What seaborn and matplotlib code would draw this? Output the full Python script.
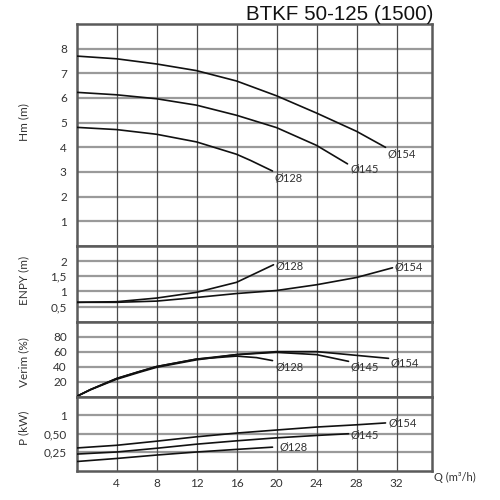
import matplotlib
matplotlib.use("Agg")
import matplotlib.pyplot as plt
import seaborn as sns
import pandas as pd

sns.set_theme(style="white")
plt.rcParams['font.family'] = ['Lato', 'DejaVu Sans']

# ---------------- data ----------------
title = "BTKF 50-125 (1500)"
x_ticks = [4, 8, 12, 16, 20, 24, 28, 32]

# Head Hm (m)
q_h128 = [0, 4, 8, 12, 16, 17.4, 19.6]
h_128 = [4.81, 4.72, 4.53, 4.22, 3.72, 3.47, 3.04]
q_h145 = [0, 4, 8, 12, 16, 20, 24, 27.1]
h_145 = [6.23, 6.13, 5.97, 5.71, 5.30, 4.80, 4.08, 3.33]
q_h154 = [0, 4, 8, 12, 16, 20, 24, 28, 30.9]
h_154 = [7.70, 7.59, 7.38, 7.11, 6.69, 6.09, 5.39, 4.65, 4.00]

# ENPY (m)
q_n128 = [0, 4, 8, 12, 16, 19.7]
n_128 = [0.64, 0.66, 0.78, 0.97, 1.30, 1.88]
q_n154 = [0, 4, 8, 12, 16, 20, 24, 28, 31.6]
n_154 = [0.64, 0.64, 0.68, 0.80, 0.93, 1.03, 1.22, 1.46, 1.78]

# Verim (%)
q_e128 = [0, 1.4, 4, 6.2, 8, 12, 16, 18, 19.6]
e_128 = [0, 9.3, 24, 33, 40, 50, 54, 52, 48]
q_e145 = [0, 1.4, 4, 6.2, 8, 12, 16, 20, 24, 27.2]
e_145 = [0, 9.3, 24, 33, 40, 50, 56, 59, 56, 47]
q_e154 = [0, 1.4, 4, 6.2, 8, 12, 16, 20, 24, 28, 31.2]
e_154 = [0, 9, 23, 32, 39, 49, 56, 60, 60, 55, 51]

# P (kW) - plotted on the chart's band scale (bands labelled 0,25 / 0,50 / 1)
q_p128 = [0, 4, 8, 12, 16, 19.6]
p_128 = [0.127, 0.168, 0.214, 0.255, 0.290, 0.320]
q_p145 = [0, 4, 8, 12, 16, 20, 24, 27.2]
p_145 = [0.227, 0.255, 0.305, 0.360, 0.405, 0.445, 0.477, 0.500]
q_p154 = [0, 4, 8, 12, 16, 20, 24, 28, 30.9]
p_154 = [0.309, 0.345, 0.400, 0.459, 0.509, 0.550, 0.590, 0.620, 0.645]

h_ticks = [1, 2, 3, 4, 5, 6, 7, 8]
h_ticklabels = ["1", "2", "3", "4", "5", "6", "7", "8"]
n_ticks = [0.5, 1, 1.5, 2]
n_ticklabels = ["0,5", "1", "1,5", "2"]
e_ticks = [20, 40, 60, 80]
e_ticklabels = ["20", "40", "60", "80"]
p_ticks = [0.25, 0.5, 0.75]
p_ticklabels = ["0,25", "0,50", "1"]

# ---------------- figure ----------------
fig = plt.figure(figsize=(5, 5), dpi=100)
W = 500.0
left, right = 76.5, 432.0
panels_px = [(24, 246), (246, 321.7), (321.7, 396.5), (396.5, 471)]
axes = []
for top, bot in panels_px:
    ax = fig.add_axes([left / W, 1 - bot / W, (right - left) / W, (bot - top) / W])
    axes.append(ax)

xmax = 35.55
vcol, hcol, bcol = "#4a4a4a", "#9a9a9a", "#5a5a5a"
fs = 8.5

def style(ax, ylim, ticks, labels, ylabel, lab_y, show_x=False):
    ax.set_xlim(0, xmax)
    ax.set_ylim(*ylim)
    ax.set_facecolor("white")
    ax.set_yticks(ticks)
    ax.set_yticklabels(labels)
    ax.set_xticks(x_ticks)
    ax.grid(False)
    for t in ticks:
        ax.axhline(t, color=hcol, lw=1.6, zorder=1)
    for t in x_ticks:
        ax.axvline(t, color=vcol, lw=0.9, zorder=1)
    for s in ax.spines.values():
        s.set_color(bcol)
        s.set_linewidth(1.8)
    ax.tick_params(axis="y", length=0, pad=7, labelsize=fs, labelcolor="#333333")
    if show_x:
        ax.tick_params(axis="x", length=0, pad=5, labelsize=fs, labelcolor="#333333")
        ax.set_xticklabels([str(t) for t in x_ticks])
    else:
        ax.tick_params(axis="x", length=0, labelbottom=False)
    ax.set_xlabel("")
    ax.set_ylabel(ylabel, fontsize=fs, color="#333333")
    ax.yaxis.set_label_coords(-0.134, lab_y)

def curve(ax, q, v):
    sns.lineplot(x=q, y=v, ax=ax, color="#111111", lw=1.2, zorder=3, sort=False)

def label(ax, q, v, text, dx, dy, va="center"):
    ax.annotate(text, xy=(q[-1], v[-1]), xytext=(dx, dy), textcoords="offset pixels",
                fontsize=8, color="#333333", ha="left", va=va, zorder=4)

# Hm
ax = axes[0]
curve(ax, q_h128, h_128); curve(ax, q_h145, h_145); curve(ax, q_h154, h_154)
style(ax, (0, 9), h_ticks, h_ticklabels, "Hm (m)", 0.56)
label(ax, q_h154, h_154, "Ø154", 2, -7)
label(ax, q_h145, h_145, "Ø145", 3, -5)
label(ax, q_h128, h_128, "Ø128", 2, -7)

# ENPY
ax = axes[1]
curve(ax, q_n128, n_128); curve(ax, q_n154, n_154)
style(ax, (0, 2.5), n_ticks, n_ticklabels, "ENPY (m)", 0.54)
label(ax, q_n128, n_128, "Ø128", 2, -1)
label(ax, q_n154, n_154, "Ø154", 2, 1)

# Verim
ax = axes[2]
curve(ax, q_e128, e_128); curve(ax, q_e145, e_145); curve(ax, q_e154, e_154)
style(ax, (0, 100), e_ticks, e_ticklabels, "Verim (%)", 0.46)
label(ax, q_e128, e_128, "Ø128", 3, -6)
label(ax, q_e145, e_145, "Ø145", 2, -6)
label(ax, q_e154, e_154, "Ø154", 2, -5)

# P
ax = axes[3]
curve(ax, q_p128, p_128); curve(ax, q_p145, p_145); curve(ax, q_p154, p_154)
style(ax, (0, 1), p_ticks, p_ticklabels, "P (kW)", 0.58, show_x=True)
label(ax, q_p154, p_154, "Ø154", 3, 0)
label(ax, q_p145, p_145, "Ø145", 2, -1)
label(ax, q_p128, p_128, "Ø128", 7, 0)

fig.text(433 / W, 1 - 14 / W, title, ha="right", va="center", fontsize=14.8,
         family=["Liberation Sans", "DejaVu Sans"], color="#111111")
fig.text(434 / W, 1 - 477 / W, "Q (m³/h)", ha="left", va="center", fontsize=8,
         color="#333333")

fig.savefig("out.png", dpi=100, facecolor="white")
